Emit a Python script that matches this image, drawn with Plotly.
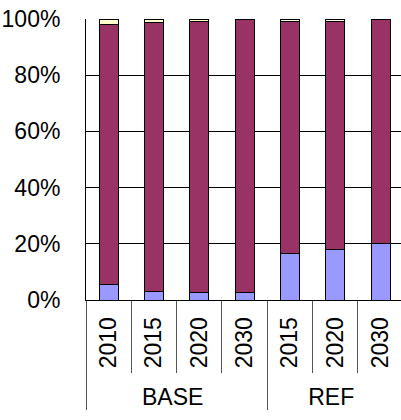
import plotly.graph_objects as go

groups = ["BASE", "BASE", "BASE", "BASE", "REF", "REF", "REF"]
years = ["2010", "2015", "2020", "2030", "2015", "2020", "2030"]
blue_vals = [5.4, 3.2, 2.7, 2.7, 16.5, 17.8, 20.0]
purple_vals = [92.8, 95.7, 96.3, 97.3, 82.5, 81.2, 80.0]
yellow_vals = [1.8, 1.1, 1.0, 0.0, 1.0, 1.0, 0.0]

x = [groups, years]
line = dict(color="black", width=1)
fig = go.Figure()
fig.add_bar(x=x, y=blue_vals, marker=dict(color="#9999FF", line=line), name="A")
fig.add_bar(x=x, y=purple_vals, marker=dict(color="#993366", line=line), name="B")
fig.add_bar(x=x, y=yellow_vals, marker=dict(color="#FFFFCC", line=line), name="C")

font = dict(family="Liberation Sans, Arial", size=23, color="black")
fig.update_layout(
    barmode="stack", bargap=0.58, showlegend=False,
    width=401, height=420, margin=dict(l=86, r=0, t=19, b=120),
    plot_bgcolor="white", paper_bgcolor="white", font=font,
)
fig.update_xaxes(
    type="multicategory", range=[-0.5, 6.45], tickangle=-90,
    showline=True, linecolor="black", linewidth=1,
    ticks="outside", ticklen=72, tickcolor="#555555", tickwidth=1,
    showdividers=True, dividercolor="#555555", dividerwidth=1,
    showgrid=False, tickfont=font, ticklabelstandoff=7,
)
fig.update_yaxes(
    range=[0, 100], tickvals=[0, 20, 40, 60, 80, 100],
    ticktext=["0%", "20%", "40%", "60%", "80%", "100%"],
    showgrid=True, gridcolor="black", gridwidth=1,
    showline=True, linecolor="black", linewidth=1,
    ticks="", ticklabelstandoff=20, tickfont=font, zeroline=False,
)
fig.write_html("out.html")
